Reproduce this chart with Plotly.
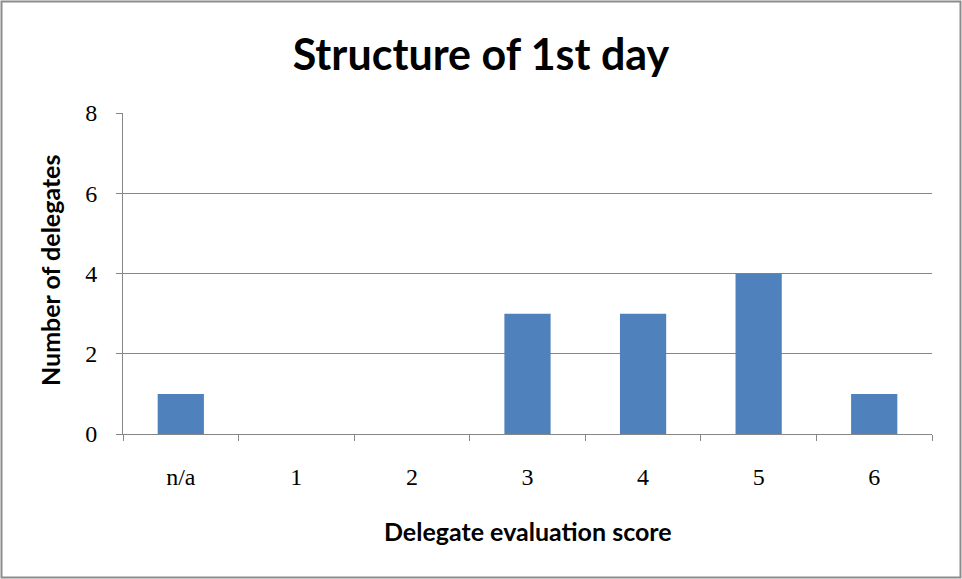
import plotly.graph_objects as go

categories = ["n/a", "1", "2", "3", "4", "5", "6"]
delegates = [1, 0, 0, 3, 3, 4, 1]
y_ticks = [0, 2, 4, 6, 8]

W, H = 962, 579
L, R, T, B = 123, 30, 113, 145
pw, ph = W - L - R, H - T - B

def px_x(x):
    return (x - L) / pw

def px_y(y):
    return (H - B - y) / ph

fig = go.Figure(go.Bar(x=categories, y=delegates, marker_color="#4F81BD",
                       marker_line_width=0))

fig.update_layout(
    width=W, height=H,
    margin=dict(l=L, r=R, t=T, b=B),
    paper_bgcolor="white", plot_bgcolor="white",
    bargap=0.6,
    showlegend=False,
    title=dict(text="<b>Structure of 1st day</b>", x=0.5, xref="container",
               y=1 - 55 / H, yref="container", yanchor="middle", xanchor="center",
               font=dict(family="Lato, Open Sans, sans-serif", size=43, color="black")),
    xaxis=dict(type="category", tickson="boundaries", ticks="outside", ticklen=6,
               tickcolor="#868686", showline=True, linecolor="#868686", linewidth=1,
               showgrid=False, ticklabelstandoff=21,
               tickfont=dict(family="Liberation Serif, serif", size=24, color="black")),
    yaxis=dict(range=[0, 8], tickvals=y_ticks, ticks="outside", ticklen=6,
               tickcolor="#868686", showline=True, linecolor="#868686", linewidth=1,
               showgrid=True, gridcolor="#868686", gridwidth=1, zeroline=False,
               ticklabelstandoff=14,
               tickfont=dict(family="Liberation Serif, serif", size=24, color="black")),
    annotations=[
        dict(text="<b>Delegate evaluation score</b>", xref="paper", yref="paper",
             x=px_x(528), y=px_y(531), showarrow=False, xanchor="center", yanchor="middle",
             font=dict(family="Lato, Open Sans, sans-serif", size=25, color="black")),
        dict(text="<b>Number of delegates</b>", xref="paper", yref="paper",
             x=px_x(50), y=px_y(271), showarrow=False, textangle=-90,
             xanchor="center", yanchor="middle",
             font=dict(family="Lato, Open Sans, sans-serif", size=25, color="black")),
    ],
    shapes=[dict(type="rect", xref="paper", yref="paper",
                 x0=px_x(1.5), x1=px_x(960.5), y0=px_y(577.5), y1=px_y(1.5),
                 line=dict(color="#8c8c8c", width=2), fillcolor="rgba(0,0,0,0)",
                 layer="below")],
)

fig.write_html("out.html", config={"displayModeBar": False},
               post_script="document.body.style.margin='0';")
